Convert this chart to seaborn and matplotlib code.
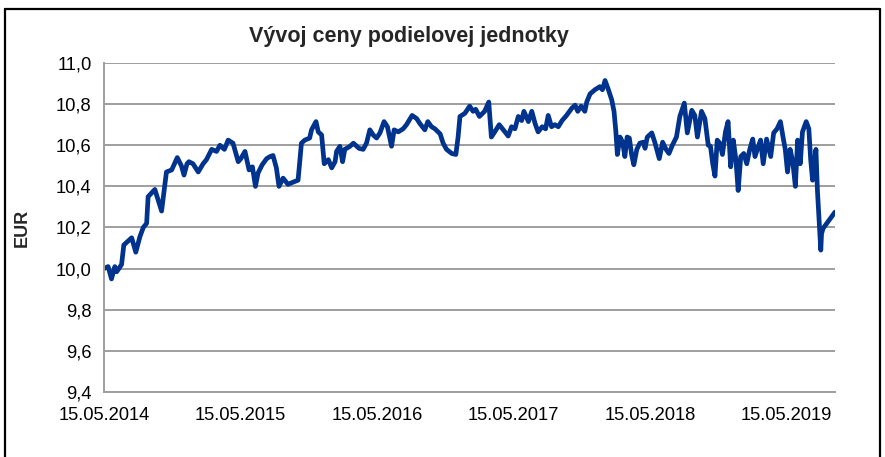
import matplotlib
matplotlib.use('Agg')

import pandas as pd
import matplotlib.pyplot as plt
import matplotlib.dates as mdates
import seaborn as sns
from matplotlib.lines import Line2D
from matplotlib.ticker import FuncFormatter, MultipleLocator

# unit price (EUR)
dates = [
    "2014-05-15", "2014-05-26", "2014-06-04", "2014-06-13", "2014-06-18", "2014-07-01",
    "2014-07-07", "2014-07-28", "2014-08-08", "2014-08-19", "2014-08-28", "2014-09-06",
    "2014-09-10", "2014-09-28", "2014-10-16", "2014-10-29", "2014-11-12", "2014-11-27",
    "2014-12-08", "2014-12-15", "2014-12-23", "2014-12-28", "2015-01-08", "2015-01-22",
    "2015-02-04", "2015-02-13", "2015-02-27", "2015-03-12", "2015-03-21", "2015-04-02",
    "2015-04-12", "2015-04-25", "2015-05-09", "2015-05-16", "2015-05-27", "2015-06-07",
    "2015-06-16", "2015-06-24", "2015-07-01", "2015-07-12", "2015-07-24", "2015-08-02",
    "2015-08-10", "2015-08-19", "2015-08-26", "2015-09-06", "2015-09-19", "2015-10-02",
    "2015-10-16", "2015-10-25", "2015-11-03", "2015-11-16", "2015-11-21", "2015-12-03",
    "2015-12-09", "2015-12-18", "2015-12-25", "2016-01-05", "2016-01-14", "2016-01-23",
    "2016-01-27", "2016-02-05", "2016-02-12", "2016-02-18", "2016-03-03", "2016-03-12",
    "2016-03-27", "2016-04-07", "2016-04-16", "2016-04-25", "2016-05-04", "2016-05-13",
    "2016-05-22", "2016-06-02", "2016-06-11", "2016-06-22", "2016-06-29", "2016-07-10",
    "2016-07-23", "2016-08-01", "2016-08-16", "2016-08-28", "2016-09-06", "2016-09-19",
    "2016-09-27", "2016-10-07", "2016-10-16", "2016-10-30", "2016-11-07", "2016-11-16",
    "2016-11-30", "2016-12-11", "2016-12-17", "2016-12-22", "2017-01-04", "2017-01-17",
    "2017-01-26", "2017-02-02", "2017-02-12", "2017-02-26", "2017-03-09", "2017-03-16",
    "2017-03-25", "2017-04-06", "2017-04-17", "2017-04-30", "2017-05-09", "2017-05-18",
    "2017-05-27", "2017-06-05", "2017-06-11", "2017-06-23", "2017-07-02", "2017-07-11",
    "2017-07-19", "2017-07-30", "2017-08-08", "2017-08-15", "2017-08-24", "2017-09-02",
    "2017-09-11", "2017-09-21", "2017-10-03", "2017-10-17", "2017-10-26", "2017-11-02",
    "2017-11-11", "2017-11-21", "2017-11-26", "2017-12-05", "2017-12-18", "2017-12-31",
    "2018-01-07", "2018-01-14", "2018-01-23", "2018-02-01", "2018-02-07", "2018-02-12",
    "2018-02-16", "2018-02-23", "2018-03-02", "2018-03-08", "2018-03-14", "2018-03-20",
    "2018-03-26", "2018-04-01", "2018-04-09", "2018-04-17", "2018-04-26", "2018-05-01",
    "2018-05-07", "2018-05-19", "2018-05-27", "2018-06-08", "2018-06-17", "2018-06-26",
    "2018-07-04", "2018-07-13", "2018-07-24", "2018-08-02", "2018-08-14", "2018-08-22",
    "2018-09-03", "2018-09-11", "2018-09-18", "2018-09-29", "2018-10-08", "2018-10-17",
    "2018-10-23", "2018-10-29", "2018-11-04", "2018-11-10", "2018-11-17", "2018-11-24",
    "2018-12-02", "2018-12-09", "2018-12-16", "2018-12-23", "2018-12-30", "2019-01-05",
    "2019-01-12", "2019-01-20", "2019-01-28", "2019-02-05", "2019-02-13", "2019-02-19",
    "2019-02-28", "2019-03-06", "2019-03-13", "2019-03-22", "2019-04-02", "2019-04-10",
    "2019-04-19", "2019-04-28", "2019-05-05", "2019-05-11", "2019-05-17", "2019-05-24",
    "2019-05-31", "2019-06-07", "2019-06-13", "2019-06-20", "2019-06-26", "2019-07-06",
    "2019-07-13", "2019-07-18", "2019-07-23", "2019-07-27", "2019-08-01", "2019-08-05",
    "2019-08-14", "2019-08-16", "2019-08-20", "2019-09-03", "2019-09-21",
]
prices = [
    10.00, 10.01, 9.95, 10.01, 9.985, 10.02,
    10.115, 10.15, 10.08, 10.155, 10.20, 10.22,
    10.35, 10.385, 10.28, 10.47, 10.48, 10.54,
    10.50, 10.455, 10.51, 10.52, 10.51, 10.47,
    10.51, 10.53, 10.58, 10.57, 10.60, 10.58,
    10.625, 10.61, 10.52, 10.535, 10.57, 10.48,
    10.495, 10.40, 10.465, 10.505, 10.535, 10.545,
    10.55, 10.49, 10.40, 10.44, 10.41, 10.42,
    10.43, 10.61, 10.625, 10.635, 10.675, 10.715,
    10.665, 10.65, 10.51, 10.53, 10.49, 10.52,
    10.57, 10.595, 10.52, 10.58, 10.595, 10.61,
    10.585, 10.58, 10.61, 10.675, 10.65, 10.635,
    10.66, 10.715, 10.69, 10.595, 10.675, 10.665,
    10.68, 10.70, 10.745, 10.73, 10.705, 10.675,
    10.715, 10.69, 10.68, 10.655, 10.61, 10.58,
    10.56, 10.555, 10.64, 10.74, 10.755, 10.79,
    10.765, 10.775, 10.74, 10.765, 10.81, 10.64,
    10.665, 10.70, 10.675, 10.645, 10.69, 10.68,
    10.74, 10.72, 10.765, 10.715, 10.765, 10.705,
    10.665, 10.69, 10.68, 10.745, 10.69, 10.70,
    10.69, 10.72, 10.745, 10.78, 10.795, 10.765,
    10.79, 10.765, 10.81, 10.85, 10.87, 10.885,
    10.87, 10.915, 10.87, 10.82, 10.765, 10.665,
    10.555, 10.64, 10.615, 10.545, 10.64, 10.635,
    10.555, 10.505, 10.58, 10.61, 10.615, 10.585,
    10.64, 10.66, 10.615, 10.535, 10.615, 10.58,
    10.56, 10.60, 10.64, 10.74, 10.805, 10.66,
    10.77, 10.745, 10.64, 10.765, 10.73, 10.60,
    10.595, 10.51, 10.45, 10.625, 10.61, 10.555,
    10.665, 10.715, 10.495, 10.625, 10.53, 10.38,
    10.545, 10.56, 10.51, 10.58, 10.63, 10.545,
    10.595, 10.625, 10.51, 10.63, 10.545, 10.66,
    10.68, 10.715, 10.64, 10.58, 10.47, 10.58,
    10.52, 10.40, 10.625, 10.51, 10.665, 10.715,
    10.68, 10.53, 10.43, 10.495, 10.58, 10.38,
    10.09, 10.17, 10.195, 10.23, 10.275,
]
tick_dates = ["2014-05-15", "2015-05-15", "2016-05-15",
              "2017-05-15", "2018-05-15", "2019-05-15"]

df = pd.DataFrame({"date": pd.to_datetime(dates), "price": prices})

sns.set_style("white")
plt.rcParams['font.family'] = ['Liberation Sans', 'DejaVu Sans']

fig = plt.figure(figsize=(8.85, 4.57), dpi=100)
ax = fig.add_axes([104 / 885, 1 - 392 / 457, (835 - 104) / 885, (392 - 63) / 457])

sns.lineplot(data=df, x="date", y="price", ax=ax, color="#00338D", linewidth=3.4)

ax.set_ylim(9.4, 11.0)
ax.set_xlim(pd.Timestamp(dates[0]), pd.Timestamp(dates[-1]))
ax.yaxis.set_major_locator(MultipleLocator(0.2))
ax.yaxis.set_major_formatter(FuncFormatter(lambda v, p: f"{v:.1f}".replace(".", ",")))
ax.set_xticks(pd.to_datetime(tick_dates))
ax.xaxis.set_major_formatter(mdates.DateFormatter("%d.%m.%Y"))

ax.grid(axis="y", color="#9e9e9e", linewidth=1.4)
ax.grid(axis="x", visible=False)
for side in ["top", "right"]:
    ax.spines[side].set_visible(False)
for side in ["left", "bottom"]:
    ax.spines[side].set_color("#9e9e9e")
    ax.spines[side].set_linewidth(1.4)
ax.tick_params(axis="both", which="major", length=5, width=1.2, color="#9e9e9e",
               labelsize=13.2, labelcolor="black", direction="out")
ax.tick_params(axis="y", pad=4)
ax.tick_params(axis="x", pad=6)

ax.set_xlabel("")
ax.set_ylabel("EUR", fontsize=13, fontweight="bold", labelpad=18)
ax.set_title("Vývoj ceny podielovej jednotky",
             fontsize=15.5, fontweight="bold", pad=15, x=(409 - 104) / 731)

# outer frame of the chart object
fx0, fx1, fy1 = 5 / 885, 880 / 885, 1 - 9 / 457
for xs, ys in [([fx0, fx0], [0, fy1]), ([fx0, fx1], [fy1, fy1]), ([fx1, fx1], [0, fy1])]:
    fig.add_artist(Line2D(xs, ys, transform=fig.transFigure, color="black", linewidth=1.6))

fig.savefig("out.png", dpi=100)
